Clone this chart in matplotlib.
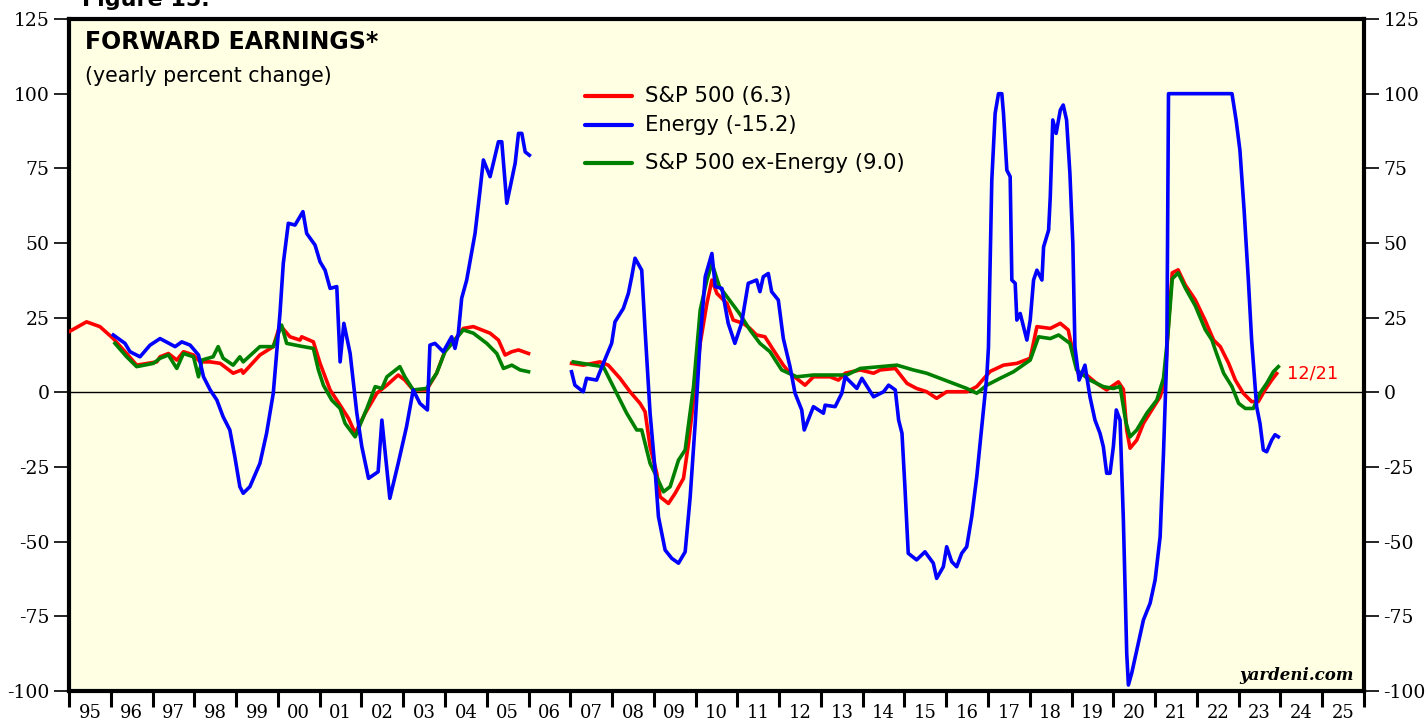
import numpy as np
import matplotlib
matplotlib.use("Agg")
import matplotlib.pyplot as plt
from matplotlib.lines import Line2D

# ---------------- data (decimal years, yearly % change) ----------------
nan = float("nan")

sp_years = [1995.00, 1995.42, 1995.74, 1996.06, 1996.38, 1996.62, 1997.10, 1997.18, 1997.38, 1997.58,
            1997.74, 1997.98, 1998.14, 1998.38, 1998.62, 1998.93, 1999.13, 1999.17, 1999.57, 1999.89,
            2000.05, 2000.29, 2000.53, 2000.57, 2000.85, 2001.01, 2001.13, 2001.25, 2001.49, 2001.69,
            2001.85, 2002.09, 2002.37, 2002.61, 2002.88, 2003.04, 2003.24, 2003.56, 2003.80, 2004.04,
            2004.20, 2004.44, 2004.68, 2005.08, 2005.28, 2005.44, 2005.60, 2005.76, 2006.00,
            2006.50,
            2007.03, 2007.31, 2007.71, 2007.91, 2008.19, 2008.43, 2008.67, 2008.79, 2008.91, 2009.07,
            2009.15, 2009.35, 2009.51, 2009.71, 2009.83, 2009.95, 2010.11, 2010.27, 2010.39, 2010.51,
            2010.75, 2010.90, 2011.14, 2011.30, 2011.46, 2011.66, 2011.86, 2012.10, 2012.26, 2012.62,
            2012.82, 2013.22, 2013.42, 2013.58, 2013.94, 2014.26, 2014.42, 2014.78, 2015.06, 2015.29,
            2015.53, 2015.77, 2016.01, 2016.25, 2016.49, 2016.73, 2017.05, 2017.37, 2017.69, 2018.01,
            2018.17, 2018.49, 2018.73, 2018.92, 2019.04, 2019.16, 2019.36, 2019.60, 2019.84, 2020.12,
            2020.24, 2020.32, 2020.40, 2020.56, 2020.72, 2020.92, 2021.12, 2021.24, 2021.31, 2021.41,
            2021.55, 2021.72, 2021.96, 2022.20, 2022.40, 2022.56, 2022.76, 2022.92, 2023.11, 2023.31,
            2023.47, 2023.63, 2023.79, 2023.91]
sp_values = [20.3, 23.6, 22.0, 18.0, 13.0, 9.1, 10.2, 11.9, 13.0, 10.8,
             13.6, 12.5, 10.2, 10.2, 9.7, 6.4, 7.5, 6.4, 12.5, 15.3,
             22.5, 18.6, 17.5, 18.6, 16.9, 9.7, 5.2, 0.8, -4.3, -8.7,
             -13.7, -7.0, -0.3, 2.4, 5.8, 4.1, 0.8, 0.8, 6.4, 15.3,
             16.9, 21.4, 22.0, 19.8, 17.5, 12.5, 13.6, 14.2, 13.0,
             nan,
             9.7, 9.1, 10.2, 9.1, 4.7, 0.2, -3.7, -6.5, -18.2, -27.1,
             -35.0, -37.2, -33.8, -28.8, -17.1, -2.6, 16.4, 29.8, 37.6, 33.1,
             29.8, 24.2, 23.1, 21.4, 19.2, 18.6, 14.2, 9.1, 6.4, 2.4,
             5.2, 5.2, 4.1, 6.4, 7.5, 6.4, 7.5, 8.0, 3.0, 1.3,
             0.2, -2.0, 0.2, 0.2, 0.2, 1.9, 7.0, 9.1, 9.7, 11.4,
             22.0, 21.4, 23.1, 20.9, 13.0, 6.4, 5.8, 3.0, 0.8, 3.5,
             1.0, -12.6, -18.7, -16.0, -10.4, -5.9, -1.5, 4.1, 21.0, 40.0,
             41.0, 36.0, 31.0, 24.0, 17.5, 15.3, 9.7, 4.1, -0.3, -3.1,
             -3.1, 0.8, 4.1, 6.3]

energy_years = [1996.06, 1996.34, 1996.46, 1996.70, 1996.94, 1997.18, 1997.54, 1997.70, 1997.90, 1998.10,
                1998.22, 1998.38, 1998.54, 1998.69, 1998.85, 1998.97, 1999.09, 1999.17, 1999.33, 1999.57,
                1999.73, 1999.89, 2000.05, 2000.13, 2000.25, 2000.41, 2000.60, 2000.69, 2000.89, 2001.01,
                2001.13, 2001.25, 2001.41, 2001.49, 2001.58, 2001.73, 2001.89, 2002.01, 2002.17, 2002.40,
                2002.49, 2002.68, 2002.88, 2003.08, 2003.24, 2003.40, 2003.58, 2003.64, 2003.76, 2003.96,
                2004.16, 2004.24, 2004.32, 2004.40, 2004.52, 2004.72, 2004.84, 2004.92, 2005.08, 2005.28,
                2005.36, 2005.48, 2005.68, 2005.76, 2005.84, 2005.92, 2006.02,
                2006.50,
                2007.03, 2007.11, 2007.31, 2007.39, 2007.63, 2007.79, 2007.99, 2008.07, 2008.27, 2008.39,
                2008.47, 2008.55, 2008.71, 2008.79, 2008.91, 2009.03, 2009.11, 2009.27, 2009.43, 2009.59,
                2009.75, 2009.87, 2009.99, 2010.11, 2010.23, 2010.39, 2010.47, 2010.63, 2010.78, 2010.94,
                2011.10, 2011.26, 2011.46, 2011.54, 2011.62, 2011.74, 2011.82, 2011.98, 2012.10, 2012.26,
                2012.38, 2012.54, 2012.60, 2012.82, 2013.06, 2013.10, 2013.34, 2013.50, 2013.58, 2013.74,
                2013.86, 2013.98, 2014.26, 2014.50, 2014.62, 2014.78, 2014.86, 2014.94, 2015.01, 2015.09,
                2015.29, 2015.49, 2015.69, 2015.77, 2015.93, 2016.01, 2016.13, 2016.25, 2016.37, 2016.49,
                2016.61, 2016.73, 2016.85, 2016.97, 2017.01, 2017.09, 2017.17, 2017.25, 2017.33, 2017.37,
                2017.45, 2017.53, 2017.57, 2017.65, 2017.69, 2017.77, 2017.85, 2017.93, 2018.01, 2018.09,
                2018.17, 2018.29, 2018.33, 2018.45, 2018.49, 2018.55, 2018.63, 2018.73, 2018.80, 2018.88,
                2018.96, 2019.03, 2019.08, 2019.18, 2019.32, 2019.44, 2019.56, 2019.68, 2019.76, 2019.84,
                2019.92, 2020.00, 2020.07, 2020.16, 2020.24, 2020.32, 2020.36, 2020.44, 2020.56, 2020.72,
                2020.88, 2021.00, 2021.12, 2021.20, 2021.28, 2021.32, 2022.84, 2022.94, 2023.03, 2023.13,
                2023.23, 2023.31, 2023.43, 2023.51, 2023.59, 2023.67, 2023.79, 2023.87, 2023.95]
energy_values = [19.2, 16.4, 13.6, 11.9, 15.8, 18.0, 15.3, 16.9, 15.8, 12.5,
                 5.2, 0.8, -2.6, -8.2, -12.6, -21.6, -31.6, -33.8, -31.6, -23.8,
                 -13.7, -0.3, 26.4, 43.2, 56.6, 56.0, 60.5, 53.2, 49.3, 43.7,
                 40.9, 34.8, 35.4, 10.2, 23.1, 13.0, -7.0, -18.2, -28.8, -26.6,
                 -9.3, -35.5, -23.8, -11.5, 0.8, -3.7, -5.9, 15.8, 16.4, 13.6,
                 18.6, 14.7, 19.8, 31.5, 37.6, 53.2, 67.7, 77.8, 72.2, 83.9,
                 83.9, 63.3, 76.7, 86.7, 86.7, 80.5, 79.4,
                 nan,
                 6.9, 2.4, 0.2, 4.7, 4.1, 9.7, 16.4, 23.6, 28.1, 33.1,
                 38.7, 44.9, 40.9, 20.9, -7.0, -26.0, -41.6, -52.8, -55.6, -57.2,
                 -53.4, -35.0, -10.4, 17.5, 38.7, 46.5, 35.4, 34.8, 23.1, 16.4,
                 23.1, 36.5, 37.6, 33.7, 38.7, 39.8, 33.7, 30.9, 18.0, 8.6,
                 -0.3, -5.9, -12.6, -4.8, -7.0, -4.3, -4.8, -0.3, 5.2, 3.0,
                 1.3, 4.7, -1.5, 0.2, 2.4, 0.8, -9.3, -13.7, -31.6, -53.9,
                 -56.1, -53.4, -57.2, -62.3, -58.4, -51.7, -56.7, -58.4, -53.9, -51.7,
                 -41.6, -28.3, -11.5, 5.2, 15.0, 71.0, 93.4, 100.0, 100.0, 93.4,
                 74.4, 72.2, 37.6, 36.5, 24.2, 26.4, 22.0, 17.5, 24.2, 37.6,
                 40.9, 37.6, 48.7, 54.3, 65.5, 91.2, 86.7, 94.5, 96.2, 91.2,
                 73.3, 49.9, 15.3, 4.1, 9.1, -1.5, -9.3, -13.7, -18.2, -27.1,
                 -27.1, -18.2, -5.9, -9.3, -42.8, -87.4, -98.0, -94.0, -86.3, -76.2,
                 -70.6, -62.8, -48.3, -20.4, 13.0, 100.0, 100.0, 91.0, 81.0, 61.0,
                 38.0, 17.5, -4.8, -10.4, -19.3, -19.9, -16.0, -14.2, -14.9]

exen_years = [1996.10, 1996.38, 1996.62, 1997.02, 1997.18, 1997.38, 1997.58, 1997.74, 1997.98, 1998.10,
              1998.18, 1998.45, 1998.57, 1998.69, 1998.93, 1999.09, 1999.17, 1999.57, 1999.89, 2000.09,
              2000.21, 2000.53, 2000.85, 2000.97, 2001.09, 2001.29, 2001.49, 2001.61, 2001.85, 2002.13,
              2002.33, 2002.49, 2002.61, 2002.92, 2003.04, 2003.24, 2003.56, 2003.80, 2004.00, 2004.20,
              2004.44, 2004.68, 2005.00, 2005.24, 2005.40, 2005.60, 2005.80, 2006.00,
              2006.50,
              2007.07, 2007.55, 2007.79, 2008.07, 2008.35, 2008.59, 2008.71, 2008.91, 2009.07, 2009.23,
              2009.39, 2009.59, 2009.75, 2009.95, 2010.11, 2010.27, 2010.39, 2010.57, 2010.81, 2011.05,
              2011.30, 2011.54, 2011.78, 2012.06, 2012.42, 2012.82, 2013.22, 2013.62, 2013.94, 2014.42,
              2014.82, 2015.21, 2015.53, 2015.85, 2016.17, 2016.49, 2016.73, 2016.97, 2017.29, 2017.61,
              2018.01, 2018.21, 2018.49, 2018.69, 2018.96, 2019.12, 2019.44, 2019.76, 2020.00, 2020.16,
              2020.30, 2020.40, 2020.56, 2020.80, 2021.04, 2021.20, 2021.31, 2021.41, 2021.55, 2021.72,
              2021.96, 2022.20, 2022.36, 2022.44, 2022.64, 2022.84, 2023.00, 2023.16, 2023.35, 2023.51,
              2023.67, 2023.83, 2023.95]
exen_values = [16.4, 11.9, 8.6, 9.7, 11.4, 12.5, 8.0, 13.0, 11.9, 5.2,
               10.8, 11.9, 15.3, 11.4, 9.1, 11.9, 10.2, 15.3, 15.3, 22.5,
               16.4, 15.5, 14.7, 7.5, 2.4, -2.6, -5.4, -10.4, -14.9, -5.4,
               1.9, 1.3, 5.2, 8.6, 5.2, 0.8, 1.3, 6.4, 13.6, 16.9,
               20.9, 19.8, 16.4, 13.0, 8.0, 9.1, 7.5, 6.9,
               nan,
               10.2, 9.1, 8.6, 0.8, -7.0, -12.6, -12.6, -23.8, -28.3, -33.3,
               -31.6, -22.7, -19.3, 1.9, 27.6, 37.6, 43.2, 35.4, 30.9, 26.4,
               20.9, 16.4, 13.6, 7.5, 5.2, 5.8, 5.8, 5.8, 8.0, 8.6,
               9.1, 7.5, 6.4, 4.7, 3.0, 1.3, -0.3, 2.4, 4.7, 6.9,
               10.8, 18.6, 18.0, 19.2, 16.4, 7.5, 4.1, 1.9, 1.3, 2.0,
               -10.0, -14.9, -12.6, -7.0, -2.6, 4.7, 20.0, 38.0, 40.0, 35.0,
               29.0, 21.0, 17.5, 14.2, 6.4, 1.9, -3.7, -5.4, -5.4, -0.3,
               3.0, 6.9, 8.6]

series_labels = ["S&P 500 (6.3)", "Energy (-15.2)", "S&P 500 ex-Energy (9.0)"]
year_ticks = list(range(1995, 2027))
year_labels = [f"{y % 100:02d}" for y in range(1995, 2026)]
y_ticks = [-100, -75, -50, -25, 0, 25, 50, 75, 100, 125]

# ---------------- styling ----------------
RED, BLUE, GREEN = "#FF0000", "#0000FF", "#008000"
BG = "#FFFFE3"
SANS = ["DejaVu Sans"]
SERIF = ["DejaVu Serif"]

fig = plt.figure(figsize=(14.27, 7.19), dpi=100)
fig.patch.set_facecolor("white")
ax = fig.add_axes([69 / 1427, 28 / 719, (1364 - 69) / 1427, (691 - 19) / 719])
ax.set_facecolor(BG)

ax.axhline(0, color="black", lw=1.0, zorder=2)

lw = 2.6
ax.plot(sp_years, sp_values, color=RED, lw=lw, zorder=3, solid_joinstyle="round")
ax.plot(exen_years, exen_values, color=GREEN, lw=lw, zorder=4, solid_joinstyle="round")
ax.plot(energy_years, energy_values, color=BLUE, lw=lw, zorder=5, solid_joinstyle="round")

ax.set_xlim(1995, 2026)
ax.set_ylim(-100, 125)

for s in ax.spines.values():
    s.set_linewidth(3)
    s.set_color("black")

# y ticks both sides
ax.set_yticks(y_ticks)
ax.set_yticklabels([str(v) for v in y_ticks], fontfamily=SERIF, fontsize=13.5)
ax.tick_params(axis="y", which="major", direction="out", length=10.5, width=1.2,
               left=True, right=True, labelleft=True, labelright=True, pad=3.5)

# x ticks: year boundaries as major ticks, labels at mid-year
ax.set_xticks(year_ticks)
ax.set_xticklabels([])
ax.set_xticks([y + 0.5 for y in range(1995, 2026)], minor=True)
ax.set_xticklabels(year_labels, minor=True, fontfamily=SERIF, fontsize=13)
ax.tick_params(axis="x", which="major", direction="out", length=11.5, width=2.2)
ax.tick_params(axis="x", which="minor", length=0, pad=9.5)

# titles
ax.text(0.012, 0.983, "FORWARD EARNINGS*", transform=ax.transAxes, ha="left", va="top",
        fontfamily=SANS, fontsize=17, fontweight="bold")
ax.text(0.012, 0.930, "(yearly percent change)", transform=ax.transAxes, ha="left", va="top",
        fontfamily=SANS, fontsize=14.8)
fig.text(82 / 1427, 1 - 6 / 719, "Figure 15.", ha="left", va="baseline",
         fontfamily=SANS, fontsize=16, fontweight="bold")

# legend (manual)
leg_rows = [96, 125, 163]
leg_colors = [RED, BLUE, GREEN]
for yy, c, lab in zip(leg_rows, leg_colors, series_labels):
    fy = (691 - yy) / 672
    ax.add_line(Line2D([(585 - 69) / 1295, (632 - 69) / 1295], [fy, fy], transform=ax.transAxes,
                       color=c, lw=3, solid_capstyle="round"))
    ax.text((645 - 69) / 1295, fy, lab, transform=ax.transAxes, ha="left", va="center",
            fontfamily=SANS, fontsize=15.2)

ax.text((1287 - 69) / 1295, (691 - 374) / 672, "12/21", transform=ax.transAxes, ha="left",
        va="center", color=RED, fontfamily=SANS, fontsize=12.8)
ax.text((1354 - 69) / 1295, (691 - 676) / 672, "yardeni.com", transform=ax.transAxes, ha="right",
        va="center", fontfamily=SERIF, fontsize=12, fontweight="bold", fontstyle="italic")

fig.savefig("out.png", dpi=100)
